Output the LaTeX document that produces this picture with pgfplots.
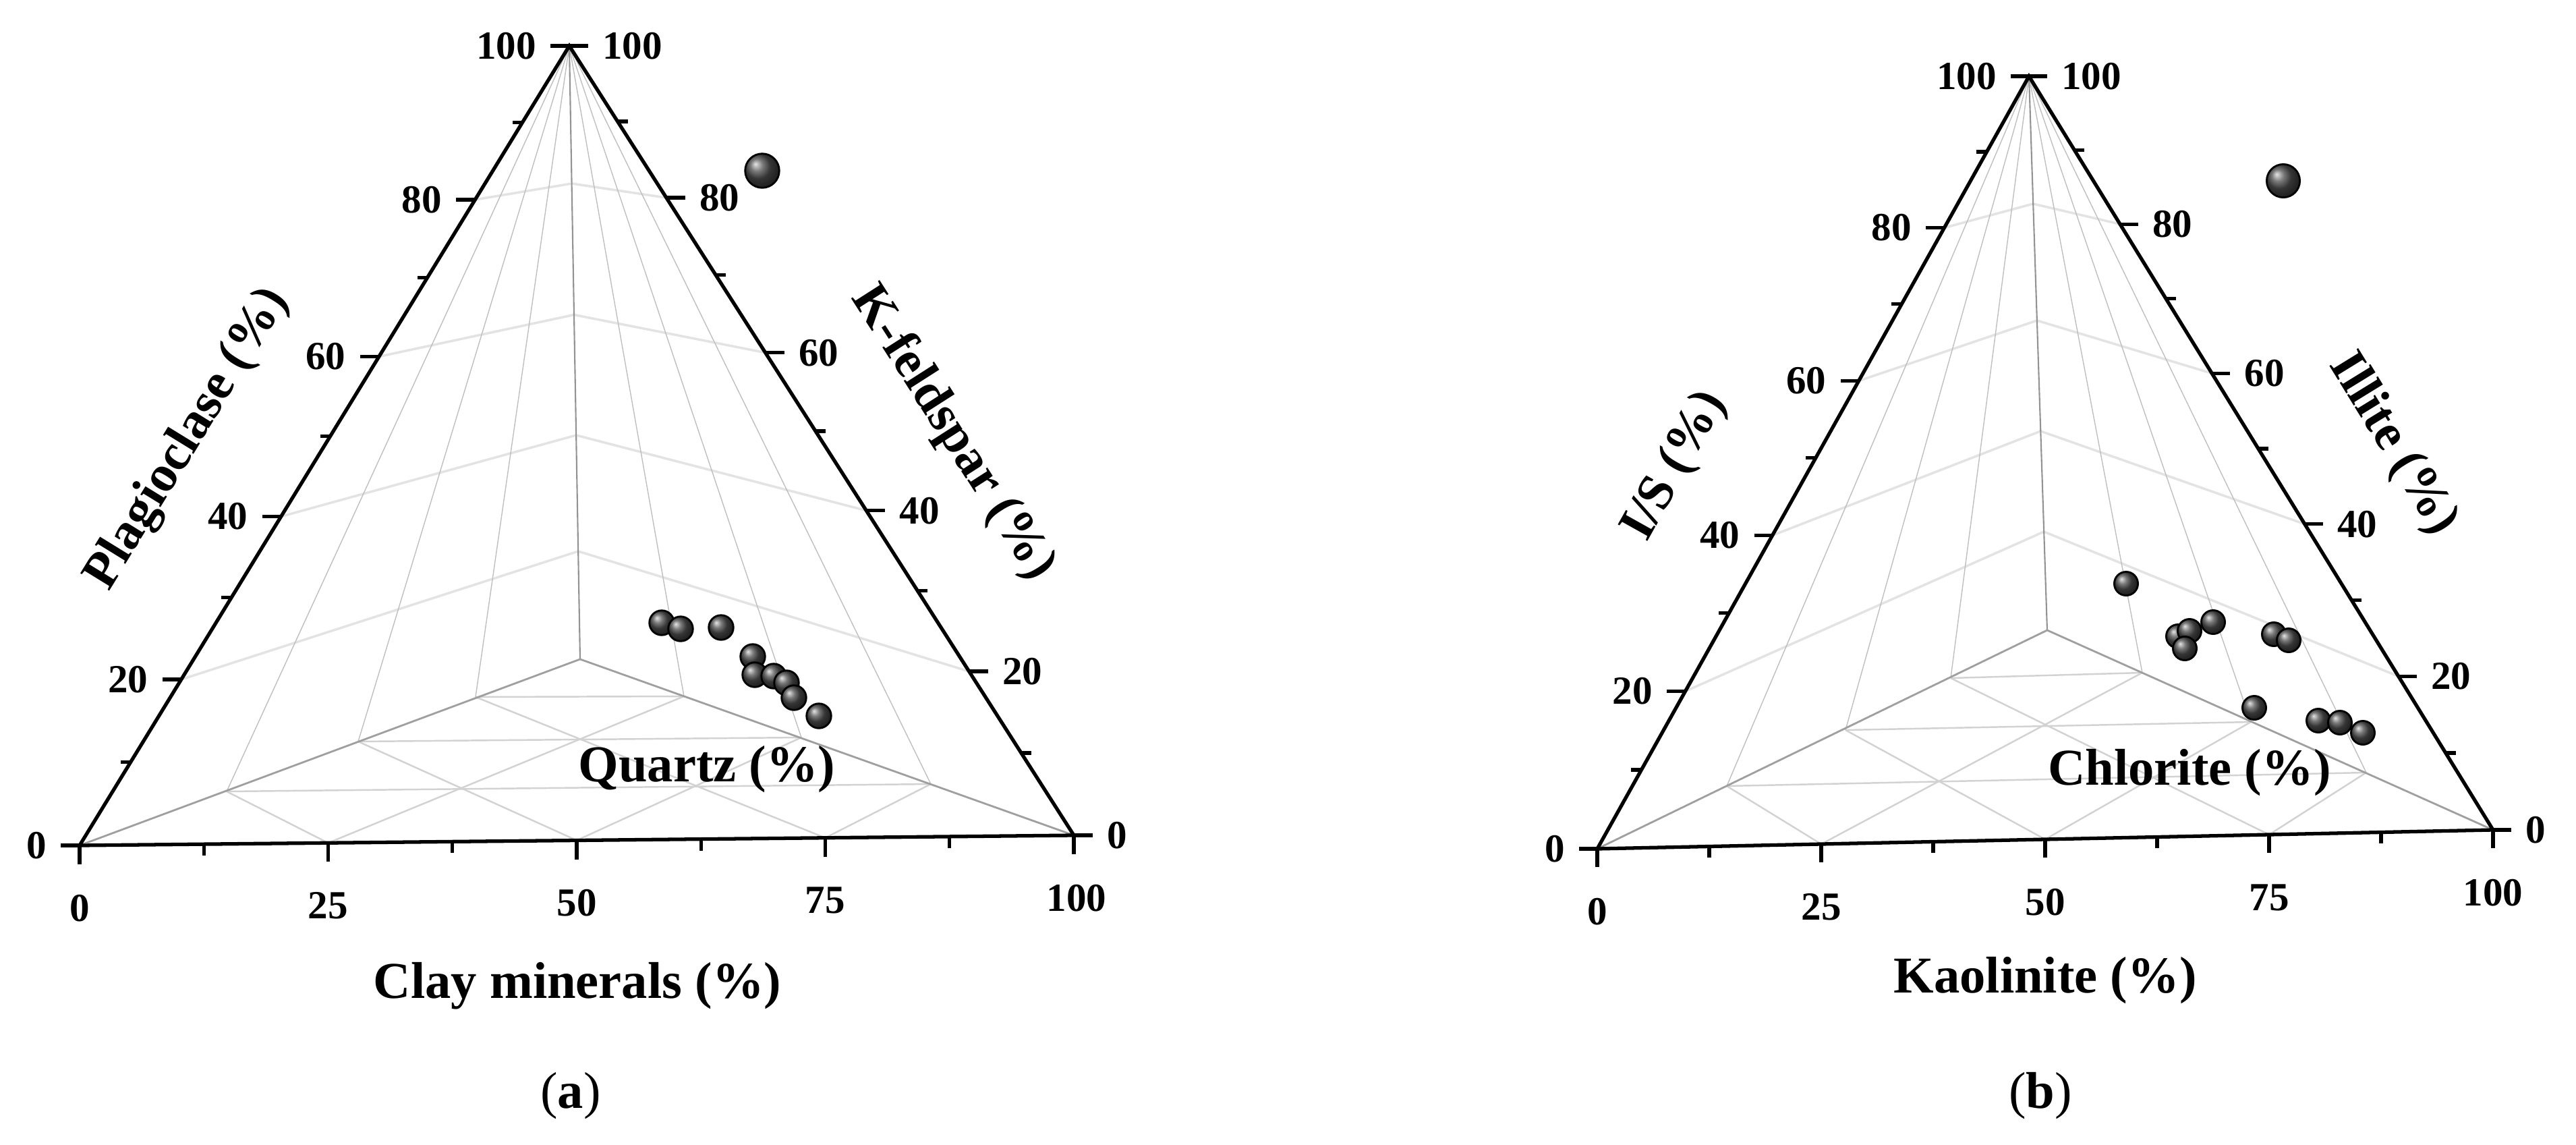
\documentclass[border=0pt]{standalone}
\usepackage{pgfplots}
\pgfplotsset{compat=1.18}
\usepackage{fontspec}
\setmainfont{Liberation Serif}
\tikzset{
  edge/.style={black, line width=0.75pt},
  back/.style={gray!75, line width=0.4pt},
  axq/.style={gray!85, line width=0.3pt},
  fan/.style={gray!50, line width=0.2pt},
  lvl/.style={gray!22, line width=0.5pt},
  base/.style={gray!35, line width=0.35pt},
  tk/.style={font=\fontsize{8.4}{10}\selectfont\bfseries, inner sep=0pt},
  ttl/.style={font=\fontsize{10.9}{13}\selectfont\bfseries, inner sep=0pt},
}
\begin{document}
\begin{tikzpicture}
\begin{axis}[scale only axis, width=190.95mm, height=84.85mm,
  xmin=0, xmax=3819, ymin=0, ymax=1697, y dir=reverse,
  hide axis, clip=false]

% ---------------- panel (a) ----------------
% base grid
\addplot[base] coordinates {(336,1173) (1380,1162)};
\addplot[base] coordinates {(531,1099) (1188,1093)};
\addplot[base] coordinates {(705,1033) (1014,1032)};
\addplot[base] coordinates {(486.5,1249.3) (336,1173)};
\addplot[base] coordinates {(855,1245.5) (531,1099)};
\addplot[base] coordinates {(1223.5,1241.8) (705,1033)};
\addplot[base] coordinates {(486.5,1249.3) (1014,1032)};
\addplot[base] coordinates {(855,1245.5) (1188,1093)};
\addplot[base] coordinates {(1223.5,1241.8) (1380,1162)};
% level lines on back faces
\addplot[lvl] coordinates {(268.7,1007) (857.2,817) (1436.7,995.1)};
\addplot[lvl] coordinates {(416.7,765.5) (854.2,645) (1284.3,756.7)};
\addplot[lvl] coordinates {(561.9,528.5) (851,466.5) (1134.7,522.7)};
\addplot[lvl] coordinates {(704.3,296) (847.6,272) (987.9,293.1)};
% fan from apex
\addplot[fan] coordinates {(844,68) (336,1173)};
\addplot[fan] coordinates {(844,68) (531,1099)};
\addplot[fan] coordinates {(844,68) (705,1033)};
\addplot[fan] coordinates {(844,68) (1014,1032)};
\addplot[fan] coordinates {(844,68) (1188,1093)};
\addplot[fan] coordinates {(844,68) (1380,1162)};
\addplot[axq] coordinates {(860,977) (844,68)};
\addplot[back] coordinates {(118,1253) (860,977) (1592,1238)};
% front edges
\addplot[edge] coordinates {(118,1253) (844,68) (1592,1238) (118,1253)};
% ticks
\addplot[edge, quiver={u=\thisrow{u},v=\thisrow{v}}] table {
x y u v
118 1253 -28 0
268.7 1007 -28 0
416.7 765.5 -28 0
561.9 528.5 -28 0
704.3 296 -28 0
844 68 -28 0
193.7 1129.4 -15 0
343.0 885.7 -15 0
489.6 646.4 -15 0
633.5 411.7 -15 0
774.5 181.4 -15 0
1592 1238 28 0
1436.7 995.1 28 0
1284.3 756.7 28 0
1134.7 522.7 28 0
987.9 293.1 28 0
844 68 28 0
1514.0 1116.0 15 0
1360.1 875.3 15 0
1209.1 639.1 15 0
1060.9 407.3 15 0
915.6 180.0 15 0
118 1253 0 28
486.5 1249.3 0 28
855 1245.5 0 28
1223.5 1241.8 0 28
1592 1238 0 28
302.3 1251.1 0 17
670.8 1247.4 0 17
1039.3 1243.6 0 17
1407.8 1239.9 0 17
};
% samples
\addplot[only marks, mark=ball, mark size=2.6pt, mark options={ball color=black!70}]
  coordinates {(981,923) (1009,932) (1069,930) (1116,973) (1119,1000)
               (1147,1002) (1166,1012) (1177,1034) (1214,1061)};
\addplot[only marks, mark=ball, mark size=3.6pt, mark options={ball color=black!70}]
  coordinates {(1130,253)};
% tick labels
\node[tk, anchor=east] at (axis cs:70,1253) {0};
\node[tk, anchor=east] at (axis cs:220.7,1007) {20};
\node[tk, anchor=east] at (axis cs:368.7,765.5) {40};
\node[tk, anchor=east] at (axis cs:513.9,528.5) {60};
\node[tk, anchor=east] at (axis cs:656.3,296) {80};
\node[tk, anchor=east] at (axis cs:796,68) {100};
\node[tk, anchor=west] at (axis cs:1640,1238) {0};
\node[tk, anchor=west] at (axis cs:1484.7,995.1) {20};
\node[tk, anchor=west] at (axis cs:1332.3,756.7) {40};
\node[tk, anchor=west] at (axis cs:1182.7,522.7) {60};
\node[tk, anchor=west] at (axis cs:1035.9,293.1) {80};
\node[tk, anchor=west] at (axis cs:892,68) {100};
\node[tk, anchor=base] at (axis cs:118,1365) {0};
\node[tk, anchor=base] at (axis cs:486.5,1361.3) {25};
\node[tk, anchor=base] at (axis cs:855,1357.5) {50};
\node[tk, anchor=base] at (axis cs:1223.5,1353.8) {75};
\node[tk, anchor=base] at (axis cs:1596,1350) {100};
% titles
\node[ttl, rotate=58.4] at (axis cs:279,651) {Plagioclase (\%)};
\node[ttl, rotate=-57.4] at (axis cs:1412,642) {K-feldspar (\%)};
\node[ttl, anchor=base] at (axis cs:856,1479) {Clay minerals (\%)};
\node[ttl, anchor=base] at (axis cs:1048,1158) {Quartz (\%)};
\node[ttl, font=\fontsize{10.9}{13}\selectfont, anchor=base] at (axis cs:846,1642) {(\textbf{a})};

% ---------------- panel (b) ----------------
\addplot[base] coordinates {(2560,1165) (3508,1145)};
\addplot[base] coordinates {(2736,1082) (3337,1070)};
\addplot[base] coordinates {(2892,1005) (3176,997)};
\addplot[base] coordinates {(2700,1251) (2560,1165)};
\addplot[base] coordinates {(3032,1244) (2736,1082)};
\addplot[base] coordinates {(3364,1237) (2892,1005)};
\addplot[base] coordinates {(2700,1251) (3176,997)};
\addplot[base] coordinates {(3032,1244) (3337,1070)};
\addplot[base] coordinates {(3364,1237) (3508,1145)};
\addplot[lvl] coordinates {(2498.4,1024.6) (3030.2,788) (3555.8,1002.4)};
\addplot[lvl] coordinates {(2627.6,793.5) (3025.3,639) (3416.9,776.8)};
\addplot[lvl] coordinates {(2755.6,564.5) (3019.9,475) (3279.3,553.4)};
\addplot[lvl] coordinates {(2882.4,337.6) (3014.2,302) (3143.0,332.2)};
\addplot[fan] coordinates {(3008,113) (2560,1165)};
\addplot[fan] coordinates {(3008,113) (2736,1082)};
\addplot[fan] coordinates {(3008,113) (2892,1005)};
\addplot[fan] coordinates {(3008,113) (3176,997)};
\addplot[fan] coordinates {(3008,113) (3337,1070)};
\addplot[fan] coordinates {(3008,113) (3508,1145)};
\addplot[axq] coordinates {(3035,934) (3008,113)};
\addplot[back] coordinates {(2368,1258) (3035,934) (3696,1230)};
\addplot[edge] coordinates {(2368,1258) (3008,113) (3696,1230) (2368,1258)};
\addplot[edge, quiver={u=\thisrow{u},v=\thisrow{v}}] table {
x y u v
2368 1258 -27 0
2498.4 1024.6 -27 0
2627.6 793.5 -27 0
2755.6 564.5 -27 0
2882.4 337.6 -27 0
3008 113 -27 0
2433.3 1141.1 -15 0
2563.2 908.8 -15 0
2691.8 678.7 -15 0
2819.2 450.8 -15 0
2945.4 225.0 -15 0
3696 1230 27 0
3555.8 1002.4 27 0
3416.9 776.8 27 0
3279.3 553.4 27 0
3143.0 332.2 27 0
3008 113 27 0
3625.8 1116.0 15 0
3486.2 889.3 15 0
3347.9 664.9 15 0
3211.0 442.5 15 0
3075.3 222.2 15 0
2368 1258 0 27
2700 1251 0 27
3032 1244 0 27
3364 1237 0 27
3696 1230 0 27
2534 1254.5 0 16
2866 1247.5 0 16
3198 1240.5 0 16
3530 1233.5 0 16
};
\addplot[only marks, mark=ball, mark size=2.5pt, mark options={ball color=black!70}]
  coordinates {(3152,865) (3229,943) (3246,935) (3239,961) (3281,922) (3371,940)
               (3393,949) (3342,1049) (3437,1068) (3469,1071) (3503,1086)};
\addplot[only marks, mark=ball, mark size=3.5pt, mark options={ball color=black!70}]
  coordinates {(3385,268)};
\node[tk, anchor=east] at (axis cs:2321,1258) {0};
\node[tk, anchor=east] at (axis cs:2451.4,1024.6) {20};
\node[tk, anchor=east] at (axis cs:2580.6,793.5) {40};
\node[tk, anchor=east] at (axis cs:2708.6,564.5) {60};
\node[tk, anchor=east] at (axis cs:2835.4,337.6) {80};
\node[tk, anchor=east] at (axis cs:2961,113) {100};
\node[tk, anchor=west] at (axis cs:3743,1230) {0};
\node[tk, anchor=west] at (axis cs:3602.8,1002.4) {20};
\node[tk, anchor=west] at (axis cs:3463.9,776.8) {40};
\node[tk, anchor=west] at (axis cs:3326.3,553.4) {60};
\node[tk, anchor=west] at (axis cs:3190,332.2) {80};
\node[tk, anchor=west] at (axis cs:3055,113) {100};
\node[tk, anchor=base] at (axis cs:2368,1370) {0};
\node[tk, anchor=base] at (axis cs:2700,1363) {25};
\node[tk, anchor=base] at (axis cs:3032,1356) {50};
\node[tk, anchor=base] at (axis cs:3364,1349) {75};
\node[tk, anchor=base] at (axis cs:3696,1342) {100};
\node[ttl, rotate=60.8] at (axis cs:2484,691) {I/S (\%)};
\node[ttl, rotate=-58.4] at (axis cs:3547,659) {Illite (\%)};
\node[ttl, anchor=base] at (axis cs:3032,1471) {Kaolinite (\%)};
\node[ttl, anchor=base] at (axis cs:3246,1163) {Chlorite (\%)};
\node[ttl, font=\fontsize{10.9}{13}\selectfont, anchor=base] at (axis cs:3025,1642) {(\textbf{b})};
\end{axis}
\pgfresetboundingbox
\path (current axis.south west) rectangle (current axis.north east);
\end{tikzpicture}
\end{document}
